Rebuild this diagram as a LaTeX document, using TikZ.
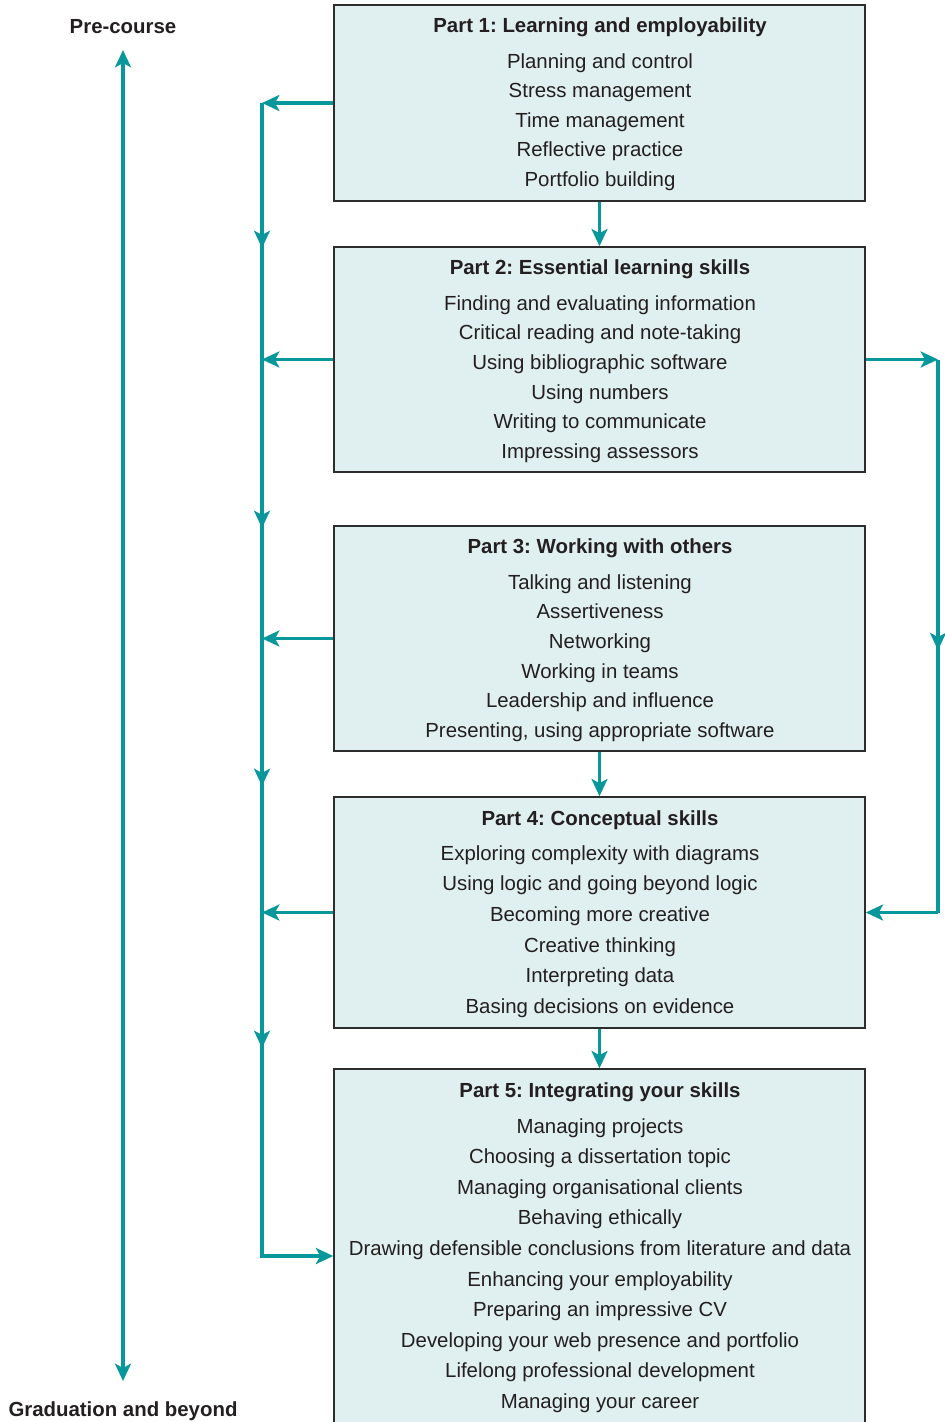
\documentclass[tikz,border=0pt]{standalone}
\usepackage{fontspec}
\setmainfont{Liberation Sans}
\usetikzlibrary{arrows.meta,fit,decorations.markings}

\definecolor{flowteal}{RGB}{8,152,156}
\definecolor{boxfill}{RGB}{224,239,239}
\definecolor{boxline}{RGB}{45,45,45}
\definecolor{inktext}{RGB}{35,31,32}

\frenchspacing
\begin{document}
\begin{tikzpicture}[x=0.75pt,y=-0.75pt,
  partbox/.style={draw=boxline, line width=1.1pt, fill=boxfill, inner sep=0pt},
  heading/.style={font=\fontsize{15.3}{18}\selectfont\bfseries, text=inktext, inner sep=0pt},
  itemlist/.style={font=\fontsize{15.3}{#1}\selectfont, align=center, text=inktext, inner sep=0pt},
  conn/.style={draw=flowteal, line width=2.3pt},
  tip/.style={-{Stealth[length=13pt,width=12pt,inset=3.2pt]}},
  bothtips/.style={{Stealth[length=13pt,width=12pt,inset=3.2pt]}-{Stealth[length=13pt,width=12pt,inset=3.2pt]}},
  midtips/.style={postaction={decorate}, decoration={markings,
    mark=at position #1 with {\arrow[flowteal]{Stealth[length=13pt,width=12pt,inset=3.2pt]}}}}
]
\useasboundingbox (0,0) rectangle (945,1422);

% the five parts
\node[partbox, fit={(334,5) (865,201)}] (p1) {};
\node[partbox, fit={(334,247) (865,472)}] (p2) {};
\node[partbox, fit={(334,526) (865,751)}] (p3) {};
\node[partbox, fit={(334,797) (865,1028)}] (p4) {};
\node[partbox, fit={(334,1069) (865,1440)}] (p5) {};

\node[heading] (h1) at (600,27) {Part 1: Learning and employability};
\node[itemlist=22.1pt] (l1) at (600,122) {Planning and control\\Stress management\\Time management\\Reflective practice\\Portfolio building};

\node[heading] (h2) at (600,269) {Part 2: Essential learning skills};
\node[itemlist=22.2pt] (l2) at (600,379) {Finding and evaluating information\\Critical reading and note-taking\\Using bibliographic software\\Using numbers\\Writing to communicate\\Impressing assessors};

\node[heading] (h3) at (600,548) {Part 3: Working with others};
\node[itemlist=22.2pt] (l3) at (600,658) {Talking and listening\\Assertiveness\\Networking\\Working in teams\\Leadership and influence\\Presenting, using appropriate software};

\node[heading] (h4) at (600,820) {Part 4: Conceptual skills};
\node[itemlist=22.95pt] (l4) at (600,931.5) {Exploring complexity with diagrams\\Using logic and going beyond logic\\Becoming more creative\\Creative thinking\\Interpreting data\\Basing decisions on evidence};

\node[heading] (h5) at (600,1092) {Part 5: Integrating your skills};
\node[itemlist=22.92pt] (l5) at (600,1265.5) {Managing projects\\Choosing a dissertation topic\\Managing organisational clients\\Behaving ethically\\Drawing defensible conclusions from literature and data\\Enhancing your employability\\Preparing an impressive CV\\Developing your web presence and portfolio\\Lifelong professional development\\Managing your career};

% timeline labels
\node[heading] (pre) at (123,27) {Pre-course};
\node[heading] (grad) at (123,1411) {Graduation and beyond};
\coordinate (tstart) at (123,50);
\coordinate (tend) at (123,1381);
\draw[conn, bothtips] (tstart) -- (tend);

% left collecting line, with direction marks part-way down
\coordinate (b1) at (262,103);
\coordinate (b5) at (262,1256);
\draw[conn, tip] (p1.west) -- (b1);
\draw[conn, tip] (p2.west) -- (b1 |- p2.west);
\draw[conn, tip] (p3.west) -- (b1 |- p3.west);
\draw[conn, tip] (p4.west) -- (b1 |- p4.west);
\draw[conn, tip,
  postaction={decorate}, decoration={markings,
    mark=at position 108.75pt with {\arrow[flowteal]{Stealth[length=13pt,width=12pt,inset=3.2pt]}},
    mark=at position 318.75pt with {\arrow[flowteal]{Stealth[length=13pt,width=12pt,inset=3.2pt]}},
    mark=at position 512.25pt with {\arrow[flowteal]{Stealth[length=13pt,width=12pt,inset=3.2pt]}},
    mark=at position 708.75pt with {\arrow[flowteal]{Stealth[length=13pt,width=12pt,inset=3.2pt]}}}]
  (b1) -- (b5) -- (p5.west |- b5);

% links between consecutive parts
\draw[conn, tip] (p1.south) -- (p2.north);
\draw[conn, tip] (p3.south) -- (p4.north);
\draw[conn, tip] (p4.south) -- (p5.north);

% right bypass from part 2 to part 4
\coordinate (r1) at (938,359.5);
\coordinate (r2) at (938,912.5);
\draw[conn, tip] (p2.east) -- (r1);
\draw[conn, midtips=218pt] (r1) -- (r2);
\draw[conn, tip] (r2) -- (p4.east);
\end{tikzpicture}
\end{document}
